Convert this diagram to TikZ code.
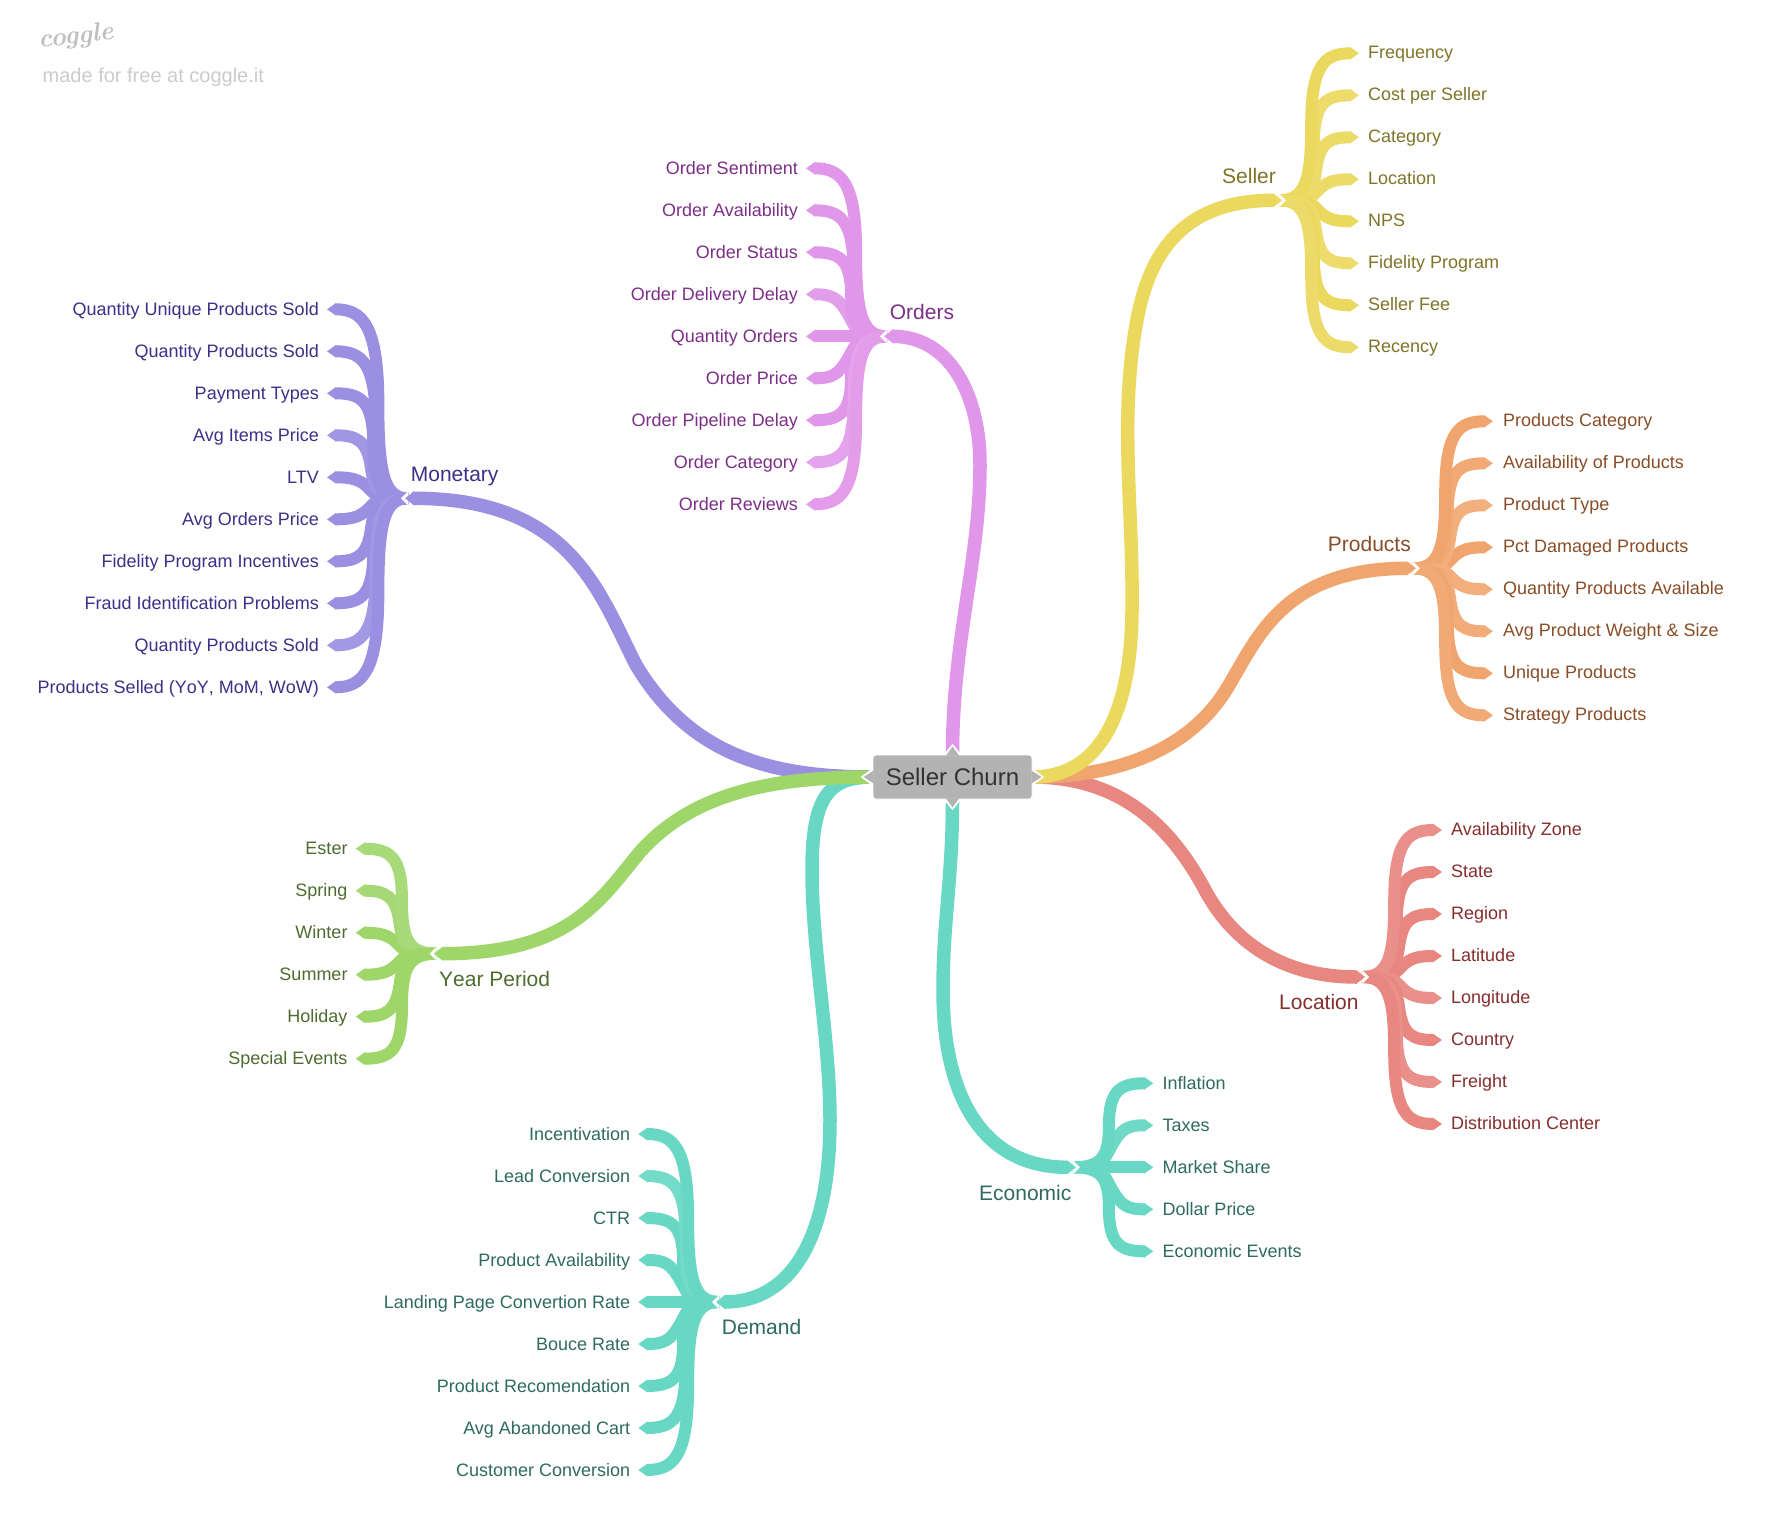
\documentclass[tikz,border=0pt]{standalone}
\usepackage{fontspec}
\setmainfont{Liberation Sans}
\newfontfamily\logofont{Latin Modern Roman}
\usetikzlibrary{arrows.meta}
\pgfdeclarelayer{bg}\pgfdeclarelayer{mid}\pgfdeclarelayer{top}
\pgfsetlayers{bg,mid,main,top}
\definecolor{cPurple}{HTML}{9B8FE2}\definecolor{tPurple}{HTML}{3F2F87}
\definecolor{cPink}{HTML}{E096E9}\definecolor{tPink}{HTML}{7D2F88}
\definecolor{cYellow}{HTML}{EBD95F}\definecolor{tYellow}{HTML}{7F7428}
\definecolor{cOrange}{HTML}{F0A56E}\definecolor{tOrange}{HTML}{894D27}
\definecolor{cRed}{HTML}{E88680}\definecolor{tRed}{HTML}{852E2E}
\definecolor{cTeal}{HTML}{68D8C4}\definecolor{tTeal}{HTML}{2E6B5E}
\definecolor{cGreen}{HTML}{9ED66A}\definecolor{tGreen}{HTML}{4F6C30}
\definecolor{rootgrey}{HTML}{B3B3B3}
\tikzset{
  x=1pt,y=-1pt,
  twig/.style={line width=12pt,-{Triangle[length=9pt,width=12pt]}},
  limb/.style={line width=13.5pt,-{Triangle[length=9pt,width=13.5pt]}},
  leaftext/.style={font=\fontsize{18}{20}\selectfont,inner xsep=9pt,inner ysep=0pt,text height=14pt,text depth=4pt},
  leafadj/.style={},
  leftleaf/.style={text height=15pt,text depth=3pt,inner xsep=8pt},
  lowleaf/.style={text height=15pt,text depth=3pt},
  farleaf/.style={inner xsep=10pt},
  grouplabel/.style={font=\fontsize{21}{24}\selectfont,inner sep=0pt,anchor=base west},
  rootbox/.style={font=\fontsize{24}{28}\selectfont,text=black!80,fill=rootgrey,draw=white,line width=0.8pt,rounded corners=3pt,minimum width=159pt,minimum height=44pt,inner sep=0pt},
  rootcap/.style={fill=rootgrey,draw=white,line width=3.5pt,line join=miter},
  rootcapfill/.style={fill=rootgrey},
  notch/.style={fill=white},
}
% group settings: hub x, hub y, side, tip x, anchor, colours, hub name
\newcommand{\group}[8]{\def\hx{#1}\def\hy{#2}\def\hs{#3}\def\tipx{#4}\def\hanc{#5}\def\grpcol{#6}\def\grptext{#7}\def\hubname{#8}%
  \coordinate (#8) at (#1,#2);}
\newcommand{\leaf}[4]{%
  \pgfmathsetmacro\lfdy{#2-\hy}%
  \pgfmathsetmacro\lfabs{abs(\lfdy)}%
  \pgfmathsetmacro\lfoff{41-0.06*\lfabs}%
  \pgfmathsetmacro\lfxm{\hx+\hs*\lfoff}%
  \pgfmathsetmacro\lfym{(\hy+#2)/2}%
  \pgfmathsetmacro\lfslope{max(0,(70-\lfabs)/50)}%
  \pgfmathsetmacro\lfca{\hx+\hs*0.8*\lfoff}%
  \pgfmathsetmacro\lfcbx{\lfxm-\hs*\lfslope*0.37*\lfabs}%
  \pgfmathsetmacro\lfcb{\hy+\lfdy*0.13}%
  \pgfmathsetmacro\lfccx{\lfxm+\hs*\lfslope*0.42*\lfabs}%
  \pgfmathsetmacro\lfcc{#2-\lfdy*0.08}%
  \pgfmathsetmacro\lfcd{\tipx-\hs*(20+15*min(1,\lfabs/100))}%
  \node[leaftext,leafadj,text=\grptext,anchor=\hanc] (#1) at (\tipx,#2) {#3};
  \begin{pgfonlayer}{bg}
    \draw[twig,draw=\grpcol!#4!white] (\hubname) .. controls (\lfca,\hy) and (\lfcbx,\lfcb) .. (\lfxm,\lfym) .. controls (\lfccx,\lfcc) and (\lfcd,#2) .. (#1.\hanc);
  \end{pgfonlayer}}
\newcommand{\hubnotch}{%
  \pgfmathsetmacro\lfn{\hx+\hs*7}%
  \pgfmathsetmacro\lfu{\hy-7}\pgfmathsetmacro\lfd{\hy+7}%
  \pgfmathsetmacro\lfe{\hx+\hs*3}%
  \begin{pgfonlayer}{bg}
    \fill[notch] (\hx,\lfu) -- (\lfn,\hy) -- (\hx,\lfd) -- cycle;
  \end{pgfonlayer}
  \coordinate (\hubname-end) at (\lfe,\hy);}
\begin{document}
\begin{tikzpicture}
\useasboundingbox (0,0) rectangle (1770,1528);
\begin{pgfonlayer}{bg}\fill[white] (0,0) rectangle (1770,1528);\end{pgfonlayer}
\node[font=\logofont\itshape\bfseries\fontsize{26}{30}\selectfont,text=black!25,rotate=6,inner sep=0pt] (logo) at (76,37) {coggle};
\node[font=\fontsize{20}{22}\selectfont,text=black!20,inner sep=0pt,anchor=base west] (made) at (42.5,82) {made for free at coggle.it};
\node[rootbox] (root) at (952.5,777) {Seller Churn};
% Economic
\tikzset{leafadj/.style={lowleaf}}
\group{1073}{1167.3}{1}{1153.3}{west}{cTeal}{tTeal}{hubEco}
\leaf{ecoB}{1125.3}{Taxes}{96}
\leaf{ecoA}{1083.3}{Inflation}{100}
\leaf{ecoC}{1167.3}{Market Share}{100}
\leaf{ecoD}{1209.3}{Dollar Price}{100}
\leaf{ecoE}{1251.3}{Economic Events}{100}
\hubnotch
\begin{pgfonlayer}{bg}
\draw[limb,draw=cTeal] (root.south) .. controls (952.5,880) and (943,920) .. (943,990) .. controls (943,1100) and (985,1167.3) .. (hubEco-end);
\end{pgfonlayer}
% Demand
\tikzset{leafadj/.style={leftleaf}}
\group{719}{1302}{-1}{638.3}{east}{cTeal}{tTeal}{hubDem}
\leaf{demD}{1260}{Product Availability}{100}
\leaf{demC}{1218}{CTR}{100}
\leaf{demB}{1176}{Lead Conversion}{92}
\leaf{demA}{1134}{Incentivation}{100}
\leaf{demE}{1302}{Landing Page Convertion Rate}{100}
\leaf{demF}{1344}{Bouce Rate}{100}
\leaf{demG}{1386}{Product Recomendation}{100}
\leaf{demH}{1428}{Avg Abandoned Cart}{100}
\leaf{demI}{1470}{Customer Conversion}{100}
\hubnotch
\begin{pgfonlayer}{bg}
\draw[limb,draw=cTeal] (root.west) .. controls (830,777) and (812,795) .. (812,870) .. controls (812,950) and (830,1040) .. (830,1120) .. controls (830,1240) and (790,1302) .. (hubDem-end);
\end{pgfonlayer}
% Location
\tikzset{leafadj/.style={}}
\group{1362}{977}{1}{1442}{west}{cRed}{tRed}{hubLoc}
\leaf{locD}{956}{Latitude}{100}
\leaf{locC}{914}{Region}{100}
\leaf{locB}{872}{State}{100}
\leaf{locA}{830}{Availability Zone}{92}
\leaf{locE}{998}{Longitude}{92}
\leaf{locF}{1040}{Country}{100}
\leaf{locG}{1082}{Freight}{92}
\leaf{locH}{1124}{Distribution Center}{100}
\hubnotch
\begin{pgfonlayer}{bg}
\draw[limb,draw=cRed] (root.east) .. controls (1110,777) and (1165,815) .. (1205,890) .. controls (1232,940) and (1280,977) .. (hubLoc-end);
\end{pgfonlayer}
% Products
\tikzset{leafadj/.style={farleaf}}
\group{1413}{568.3}{1}{1493}{west}{cOrange}{tOrange}{hubPro}
\leaf{proD}{547.3}{Pct Damaged Products}{100}
\leaf{proC}{505.3}{Product Type}{88}
\leaf{proB}{463.3}{Availability of Products}{95}
\leaf{proA}{421.3}{Products Category}{100}
\leaf{proE}{589.3}{Quantity Products Available}{90}
\leaf{proF}{631.3}{Avg Product Weight \& Size}{92}
\leaf{proG}{673.3}{Unique Products}{100}
\leaf{proH}{715.3}{Strategy Products}{95}
\hubnotch
\begin{pgfonlayer}{bg}
\draw[limb,draw=cOrange] (root.east) .. controls (1120,777) and (1190,748) .. (1226,690) .. controls (1256,642) and (1280,568.3) .. (hubPro-end);
\end{pgfonlayer}
% Seller
\tikzset{leafadj/.style={}}
\group{1279}{200.3}{1}{1359}{west}{cYellow}{tYellow}{hubSel}
\leaf{selD}{179.3}{Location}{95}
\leaf{selC}{137.3}{Category}{95}
\leaf{selB}{95.3}{Cost per Seller}{92}
\leaf{selA}{53.3}{Frequency}{100}
\leaf{selE}{221.3}{NPS}{100}
\leaf{selF}{263.3}{Fidelity Program}{92}
\leaf{selG}{305.3}{Seller Fee}{100}
\leaf{selH}{347.3}{Recency}{94}
\hubnotch
\begin{pgfonlayer}{bg}
\draw[limb,draw=cYellow] (root.east) .. controls (1090,777) and (1131,730) .. (1132,610) .. controls (1132.7,540) and (1128,500) .. (1127.7,433) .. controls (1127.5,385) and (1132,335) .. (1142,298) .. controls (1158,240) and (1195,200.3) .. (hubSel-end);
\end{pgfonlayer}
% Monetary
\tikzset{leafadj/.style={leftleaf}}
\group{408}{498.3}{-1}{327}{east}{cPurple}{tPurple}{hubMon}
\leaf{monE}{477.3}{LTV}{100}
\leaf{monD}{435.3}{Avg Items Price}{94}
\leaf{monC}{393.3}{Payment Types}{100}
\leaf{monB}{351.3}{Quantity Products Sold}{100}
\leaf{monA}{309.3}{Quantity Unique Products Sold}{100}
\leaf{monF}{519.3}{Avg Orders Price}{100}
\leaf{monG}{561.3}{Fidelity Program Incentives}{100}
\leaf{monH}{603.3}{Fraud Identification Problems}{100}
\leaf{monI}{645.3}{Quantity Products Sold}{92}
\leaf{monJ}{687.3}{\addfontfeature{Kerning=Off}Products Selled (YoY, MoM, WoW)}{100}
\hubnotch
\begin{pgfonlayer}{bg}
\draw[limb,draw=cPurple] (root.west) .. controls (770,777) and (690,755) .. (636,665) .. controls (598,590) and (570,498.3) .. (hubMon-end);
\end{pgfonlayer}
% Year Period
\group{436.7}{953.7}{-1}{355.7}{east}{cGreen}{tGreen}{hubYea}
\leaf{yeaC}{932.7}{Winter}{100}
\leaf{yeaB}{890.7}{Spring}{92}
\leaf{yeaA}{848.7}{Ester}{90}
\leaf{yeaD}{974.7}{Summer}{100}
\leaf{yeaE}{1016.7}{Holiday}{100}
\leaf{yeaF}{1058.7}{Special Events}{100}
\hubnotch
\begin{pgfonlayer}{bg}
\draw[limb,draw=cGreen] (root.west) .. controls (780,777) and (695,790) .. (640,852) .. controls (600,900) and (570,953.7) .. (hubYea-end);
\end{pgfonlayer}
% Orders
\group{887}{336.3}{-1}{806}{east}{cPink}{tPink}{hubOrd}
\leaf{ordD}{294.3}{Order Delivery Delay}{92}
\leaf{ordC}{252.3}{Order Status}{100}
\leaf{ordB}{210.3}{Order Availability}{100}
\leaf{ordA}{168.3}{Order Sentiment}{100}
\leaf{ordE}{336.3}{Quantity Orders}{100}
\leaf{ordF}{378.3}{Order Price}{100}
\leaf{ordG}{420.3}{Order Pipeline Delay}{100}
\leaf{ordH}{462.3}{Order Category}{88}
\leaf{ordI}{504.3}{Order Reviews}{94}
\hubnotch
\begin{pgfonlayer}{bg}
\draw[limb,draw=cPink] (root.north) .. controls (952.5,640) and (980,560) .. (980,465) .. controls (980,395) and (950,336.3) .. (hubOrd-end);
\end{pgfonlayer}
% group labels
\node[grouplabel,text=tYellow] (lblSeller) at (1222,183.3) {Seller};
\node[grouplabel,text=tPink] (lblOrders) at (889.7,319.3) {Orders};
\node[grouplabel,text=tPurple] (lblMonetary) at (410.7,481.7) {Monetary};
\node[grouplabel,text=tOrange] (lblProducts) at (1327.7,551) {Products};
\node[grouplabel,text=tRed] (lblLocation) at (1279,1009.3) {Location};
\node[grouplabel,text=tTeal] (lblEconomic) at (979,1200.2) {Economic};
\node[grouplabel,text=tTeal] (lblDemand) at (721.7,1334) {Demand};
\node[grouplabel,text=tGreen,font=\fontsize{21}{24}\selectfont\addfontfeature{Kerning=Off}] (lblYear) at (439,986) {Year Period};
% root caps
\begin{pgfonlayer}{mid}
\draw[rootcap] ([yshift=6.5pt]root.west) -- ([xshift=-9pt]root.west) -- ([yshift=-6.5pt]root.west) -- cycle;
\draw[rootcap] ([yshift=6.5pt]root.east) -- ([xshift=9pt]root.east) -- ([yshift=-6.5pt]root.east) -- cycle;
\draw[rootcap] ([xshift=-6.5pt]root.north) -- ([yshift=8pt]root.north) -- ([xshift=6.5pt]root.north) -- cycle;
\draw[rootcap] ([xshift=-6.5pt]root.south) -- ([yshift=-8pt]root.south) -- ([xshift=6.5pt]root.south) -- cycle;
\end{pgfonlayer}
\begin{pgfonlayer}{top}
\fill[rootcapfill] ([yshift=6.5pt,xshift=1pt]root.west) -- ([xshift=-9pt]root.west) -- ([yshift=-6.5pt,xshift=1pt]root.west) -- cycle;
\fill[rootcapfill] ([yshift=6.5pt,xshift=-1pt]root.east) -- ([xshift=9pt]root.east) -- ([yshift=-6.5pt,xshift=-1pt]root.east) -- cycle;
\fill[rootcapfill] ([xshift=-6.5pt,yshift=-1pt]root.north) -- ([yshift=8pt]root.north) -- ([xshift=6.5pt,yshift=-1pt]root.north) -- cycle;
\fill[rootcapfill] ([xshift=-6.5pt,yshift=1pt]root.south) -- ([yshift=-8pt]root.south) -- ([xshift=6.5pt,yshift=1pt]root.south) -- cycle;
\end{pgfonlayer}
\end{tikzpicture}
\end{document}
